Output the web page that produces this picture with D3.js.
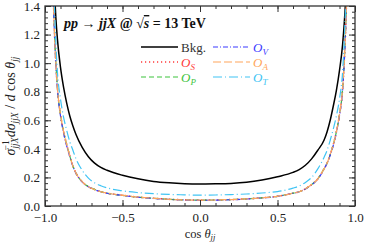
<!DOCTYPE html>
<html>
<head>
    <meta charset="utf-8">
    <title>cos theta_jj distribution</title>
    <style>
        body { margin: 0; background: #fff; }
        text { font-family: "Liberation Serif", "DejaVu Serif", serif; }
    </style>
</head>
<body>
    <script src="https://cdnjs.cloudflare.com/ajax/libs/d3/7.9.0/d3.min.js"></script>
    <script>
        // data
        const cosBins = [-0.96, -0.95, -0.94, -0.93, -0.92, -0.90, -0.88, -0.86, -0.84, -0.82, -0.80, -0.76, -0.72, -0.68, -0.64, -0.60,
            -0.50, -0.40, -0.30, -0.20, -0.10, 0.00, 0.10, 0.20, 0.30, 0.40, 0.50,
            0.60, 0.64, 0.68, 0.72, 0.76, 0.80, 0.82, 0.84, 0.86, 0.88, 0.90, 0.92, 0.93, 0.94, 0.95, 0.96];

        const bkg = [2.10, 1.75, 1.52, 1.32, 1.17, 0.97, 0.83, 0.72, 0.63, 0.56, 0.50, 0.41, 0.345, 0.30, 0.27, 0.25,
            0.215, 0.19, 0.172, 0.162, 0.156, 0.154, 0.155, 0.158, 0.166, 0.182, 0.205,
            0.235, 0.255, 0.285, 0.33, 0.39, 0.46, 0.52, 0.60, 0.70, 0.81, 0.95, 1.13, 1.27, 1.45, 1.70, 2.05];

        const sigS = [2.00, 1.60, 1.25, 1.00, 0.83, 0.64, 0.52, 0.43, 0.35, 0.28, 0.23, 0.17, 0.135, 0.115, 0.10, 0.09,
            0.075, 0.062, 0.054, 0.047, 0.043, 0.041, 0.042, 0.045, 0.050, 0.057, 0.068,
            0.09, 0.10, 0.12, 0.15, 0.19, 0.26, 0.30, 0.36, 0.43, 0.52, 0.64, 0.82, 1.00, 1.25, 1.60, 2.00];
        const sigP = [2.02, 1.62, 1.26, 1.01, 0.83, 0.64, 0.52, 0.43, 0.35, 0.28, 0.23, 0.17, 0.136, 0.116, 0.10, 0.09,
            0.074, 0.062, 0.054, 0.047, 0.043, 0.041, 0.042, 0.045, 0.050, 0.057, 0.068,
            0.09, 0.10, 0.12, 0.15, 0.19, 0.26, 0.30, 0.36, 0.43, 0.52, 0.64, 0.82, 1.00, 1.26, 1.61, 2.02];
        const sigV = [1.98, 1.58, 1.24, 0.99, 0.82, 0.63, 0.51, 0.42, 0.345, 0.278, 0.228, 0.168, 0.134, 0.114, 0.10, 0.089,
            0.074, 0.061, 0.053, 0.046, 0.042, 0.040, 0.041, 0.044, 0.049, 0.056, 0.067,
            0.089, 0.10, 0.119, 0.148, 0.188, 0.258, 0.30, 0.355, 0.425, 0.515, 0.63, 0.81, 0.99, 1.24, 1.58, 1.98];
        const sigA = [2.01, 1.61, 1.25, 1.00, 0.83, 0.64, 0.52, 0.43, 0.35, 0.28, 0.23, 0.17, 0.135, 0.115, 0.10, 0.09,
            0.075, 0.062, 0.054, 0.047, 0.043, 0.041, 0.042, 0.045, 0.050, 0.057, 0.068,
            0.09, 0.10, 0.12, 0.15, 0.19, 0.26, 0.30, 0.36, 0.43, 0.52, 0.64, 0.82, 1.00, 1.25, 1.60, 2.01];
        const sigT = [2.20, 1.78, 1.42, 1.14, 0.94, 0.75, 0.62, 0.53, 0.45, 0.39, 0.33, 0.25, 0.195, 0.162, 0.142, 0.127,
            0.106, 0.094, 0.086, 0.081, 0.078, 0.076, 0.077, 0.080, 0.084, 0.091, 0.101,
            0.125, 0.14, 0.165, 0.20, 0.26, 0.34, 0.39, 0.46, 0.54, 0.63, 0.75, 0.94, 1.14, 1.42, 1.78, 2.20];

        const xTicks = [-1.0, -0.5, 0.0, 0.5, 1.0];
        const yTicks = [0.0, 0.2, 0.4, 0.6, 0.8, 1.0, 1.2, 1.4];

        const series = [
            {name: "Bkg.", values: bkg, color: "#000000", dash: null, width: 1.5, sub: null},
            {name: "O", values: sigS, color: "#ff3b3b", dash: "1.2,2.8", width: 1.6, sub: "S"},
            {name: "O", values: sigP, color: "#3dc43d", dash: "5,3", width: 1.2, sub: "P"},
            {name: "O", values: sigV, color: "#3b3bff", dash: "5,2,1,2", width: 1.2, sub: "V"},
            {name: "O", values: sigA, color: "#ffa65c", dash: "8,3", width: 1.2, sub: "A"},
            {name: "O", values: sigT, color: "#40c4f4", dash: "9,3,1,3", width: 1.2, sub: "T"}
        ];
        // legend order: two columns
        const legendOrder = [[0, 3], [1, 4], [2, 5]];

        const width = 365;
        const height = 244;
        const margin = {top: 6, right: 10, bottom: 38, left: 45};

        const svg = d3.select("body")
            .append("svg")
            .attr("width", width)
            .attr("height", height);

        const x = d3.scaleLinear().domain([-1, 1]).range([margin.left, width - margin.right]);
        const y = d3.scaleLinear().domain([0, 1.4]).range([height - margin.bottom, margin.top]);

        svg.append("clipPath").attr("id", "clip")
            .append("rect")
            .attr("x", margin.left).attr("y", margin.top)
            .attr("width", x(1) - x(-1)).attr("height", y(0) - y(1.4));

        const line = d3.line()
            .x((d, i) => x(cosBins[i]))
            .y(d => y(d))
            .curve(d3.curveMonotoneX);

        const plot = svg.append("g").attr("clip-path", "url(#clip)");
        series.forEach(s => {
            plot.append("path")
                .attr("d", line(s.values))
                .attr("fill", "none")
                .attr("stroke", s.color)
                .attr("stroke-width", s.width)
                .attr("stroke-dasharray", s.dash);
        });

        // axes: inside ticks, mirrored
        const xMinor = d3.range(-10, 11).map(v => v / 10);
        const yMinor = d3.range(0, 36).map(v => v * 0.04);
        const axisColor = "#333";

        function addAxis(axis, tx, ty) {
            const g = svg.append("g").attr("transform", `translate(${tx},${ty})`).call(axis);
            g.select(".domain").remove();
            g.selectAll("line").attr("stroke", axisColor);
            return g;
        }

        const bottomY = y(0), topY = y(1.4), leftX = x(-1), rightX = x(1);

        // minor ticks
        addAxis(d3.axisBottom(x).tickValues(xMinor).tickSize(-3).tickFormat(""), 0, bottomY);
        addAxis(d3.axisTop(x).tickValues(xMinor).tickSize(-3).tickFormat(""), 0, topY);
        addAxis(d3.axisLeft(y).tickValues(yMinor).tickSize(-3).tickFormat(""), leftX, 0);
        addAxis(d3.axisRight(y).tickValues(yMinor).tickSize(-3).tickFormat(""), rightX, 0);

        // major ticks with labels
        const xb = addAxis(d3.axisBottom(x).tickValues(xTicks).tickSize(-6).tickPadding(7)
            .tickFormat(d => d3.format(".1f")(d).replace("-", "\u2212")), 0, bottomY);
        xb.selectAll("text").attr("font-size", 13).attr("fill", "#222")
            .style("font-family", "Liberation Serif, serif");
        addAxis(d3.axisTop(x).tickValues(xTicks).tickSize(-6).tickFormat(""), 0, topY);
        const yl = addAxis(d3.axisLeft(y).tickValues(yTicks).tickSize(-6).tickPadding(5)
            .tickFormat(d3.format(".1f")), leftX, 0);
        yl.selectAll("text").attr("font-size", 13).attr("fill", "#222")
            .style("font-family", "Liberation Serif, serif");
        addAxis(d3.axisRight(y).tickValues(yTicks).tickSize(-6).tickFormat(""), rightX, 0);

        // frame
        svg.append("rect")
            .attr("x", leftX).attr("y", topY)
            .attr("width", rightX - leftX).attr("height", bottomY - topY)
            .attr("fill", "none").attr("stroke", axisColor).attr("stroke-width", 1.3);

        // title
        const title = svg.append("text")
            .attr("x", 64).attr("y", 28)
            .attr("font-size", 14)
            .attr("font-weight", "bold")
            .attr("fill", "#111");
        title.append("tspan").attr("font-style", "italic").text("pp");
        title.append("tspan").text(" \u2192 ");
        title.append("tspan").attr("font-style", "italic").text("jjX");
        title.append("tspan").text(" @ \u221A");
        title.append("tspan").attr("font-style", "italic").attr("text-decoration", "overline").text("s");
        title.append("tspan").text(" = 13 TeV");

        // legend
        const legCols = [{x0: 141, x1: 178}, {x0: 213, x1: 250}];
        const legRows = [47, 62, 77];
        legendOrder.forEach((row, r) => {
            row.forEach((si, c) => {
                const s = series[si];
                const ly = legRows[r];
                svg.append("line")
                    .attr("x1", legCols[c].x0).attr("x2", legCols[c].x1)
                    .attr("y1", ly).attr("y2", ly)
                    .attr("stroke", s.color)
                    .attr("stroke-width", s.width)
                    .attr("stroke-dasharray", s.dash);
                const t = svg.append("text")
                    .attr("x", legCols[c].x1 + 3)
                    .attr("y", ly + 4.5)
                    .attr("font-size", 13);
                if (s.sub) {
                    t.attr("fill", s.color);
                    t.append("tspan").attr("font-style", "italic").text(s.name);
                    t.append("tspan").attr("font-style", "italic").attr("font-size", 9).attr("dy", 3).text(s.sub);
                } else {
                    t.attr("fill", "#333").text(s.name);
                }
            });
        });

        // axis labels
        const xl = svg.append("text")
            .attr("x", (leftX + rightX) / 2).attr("y", 238)
            .attr("text-anchor", "middle")
            .attr("font-size", 12.5).attr("fill", "#222");
        xl.append("tspan").text("cos ");
        xl.append("tspan").attr("font-style", "italic").text("\u03B8");
        xl.append("tspan").attr("font-style", "italic").attr("font-size", 8.5).attr("dy", 2).text("jj");

        const ylab = svg.append("text")
            .attr("transform", `translate(15,${(topY + bottomY) / 2}) rotate(-90)`)
            .attr("text-anchor", "middle")
            .attr("font-size", 14).attr("fill", "#222");
        ylab.append("tspan").attr("font-style", "italic").text("\u03C3");
        ylab.append("tspan").attr("font-size", 9.5).attr("dy", 3).attr("font-style", "italic").text("jjX");
        ylab.append("tspan").attr("font-size", 9.5).attr("dy", -9).attr("dx", -13).text("\u22121");
        ylab.append("tspan").attr("dy", 6).attr("dx", 3).attr("font-style", "italic").text("d\u03C3");
        ylab.append("tspan").attr("font-size", 9.5).attr("dy", 3).attr("font-style", "italic").text("jjX");
        ylab.append("tspan").attr("dy", -3).text(" /");
        ylab.append("tspan").attr("font-style", "italic").text(" d");
        ylab.append("tspan").text(" cos ");
        ylab.append("tspan").attr("font-style", "italic").text("\u03B8");
        ylab.append("tspan").attr("font-size", 9.5).attr("dy", 3).attr("font-style", "italic").text("jj");
    </script>
</body>
</html>
